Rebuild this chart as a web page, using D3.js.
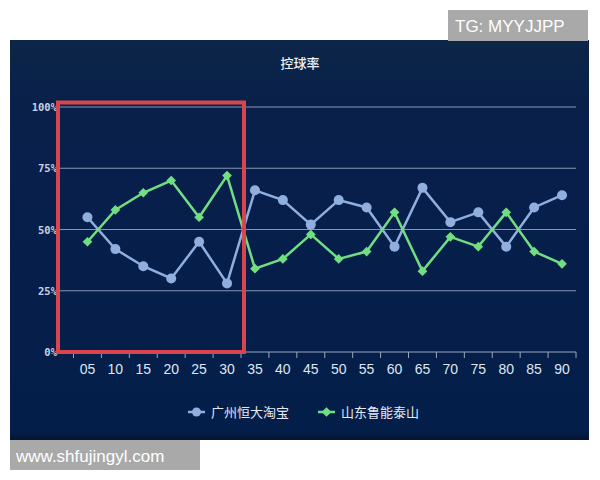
<!DOCTYPE html>
<html>
<head>
<meta charset="utf-8">
<script src="https://cdn.jsdelivr.net/npm/d3@7"></script>
<style>
  body { margin: 0; background: #fff; }
  svg { display: block; }
</style>
</head>
<body>
<svg width="600" height="480"></svg>
<script>
// minutes into the match
let minutes = ["05", "10", "15", "20", "25", "30", "35", "40", "45", "50", "55", "60", "65", "70", "75", "80", "85", "90"];
let guangzhou = [55, 42, 35, 30, 45, 28, 66, 62, 52, 62, 59, 43, 67, 53, 57, 43, 59, 64];
let shandong = [45, 58, 65, 70, 55, 72, 34, 38, 48, 38, 41, 57, 33, 47, 43, 57, 41, 36];
let yTicks = [0, 25, 50, 75, 100];
let seriesNames = ["广州恒大淘宝", "山东鲁能泰山"];
let highlight = ["05", "30"];   // minutes boxed in red

let blue = "#90aede", green = "#72de82";
let cjk = "'Noto Sans CJK SC', sans-serif";

let svg = d3.select("svg");

// dark panel
let grad = svg.append("defs").append("linearGradient")
    .attr("id", "bg").attr("x1", 0).attr("y1", 0).attr("x2", 0).attr("y2", 1);
grad.append("stop").attr("offset", "0%").attr("stop-color", "#0c2548");
grad.append("stop").attr("offset", "20%").attr("stop-color", "#08204a");
grad.append("stop").attr("offset", "98%").attr("stop-color", "#041e4a");
grad.append("stop").attr("offset", "100%").attr("stop-color", "#03142e");

svg.append("rect")
    .attr("x", 10).attr("y", 40).attr("width", 579).attr("height", 400)
    .attr("fill", "url(#bg)");

svg.append("text")
    .attr("x", 300).attr("y", 68)
    .attr("text-anchor", "middle")
    .attr("fill", "#eef2f8")
    .style("font", "500 13px " + cjk)
    .text("控球率");

let left = 59, right = 576;
let x = d3.scaleBand().domain(minutes).range([73.5, right]);
let y = d3.scaleLinear().domain([0, 100]).range([352, 107]);

// grid lines + y labels
svg.append("g").selectAll("line")
    .data(yTicks.filter(d => d > 0))
    .enter().append("line")
    .attr("x1", left).attr("x2", right)
    .attr("y1", d => y(d)).attr("y2", d => y(d))
    .attr("stroke", "#8797b3").attr("stroke-width", 1);

svg.append("g").selectAll("text")
    .data(yTicks)
    .enter().append("text")
    .attr("x", left - 2).attr("y", d => y(d) + 4)
    .attr("text-anchor", "end")
    .attr("fill", "#c9d1e0")
    .style("font", "bold 10.5px 'DejaVu Sans Mono', monospace")
    .text(d => d + "%");

// x axis
let xAxis = svg.append("g");
xAxis.append("line")
    .attr("x1", left).attr("x2", right)
    .attr("y1", y(0)).attr("y2", y(0))
    .attr("stroke", "#9aa7c0");
xAxis.selectAll(".tick")
    .data(minutes)
    .enter().append("line")
    .attr("x1", d => x(d)).attr("x2", d => x(d))
    .attr("y1", y(0)).attr("y2", y(0) + 6)
    .attr("stroke", "#9aa7c0");
xAxis.append("line")
    .attr("x1", right).attr("x2", right)
    .attr("y1", y(0)).attr("y2", y(0) + 6)
    .attr("stroke", "#9aa7c0");
xAxis.selectAll("text")
    .data(minutes)
    .enter().append("text")
    .attr("x", d => x(d) + x.bandwidth() / 2)
    .attr("y", y(0) + 22)
    .attr("text-anchor", "middle")
    .attr("fill", "#dfe6f2")
    .style("font", "14px 'Liberation Sans', Arial, sans-serif")
    .text(d => d);

// lines
let cx = d => x(d) + x.bandwidth() / 2;
let line = d3.line()
    .x((d, i) => cx(minutes[i]))
    .y(d => y(d));

svg.append("path")
    .attr("d", line(guangzhou))
    .attr("fill", "none").attr("stroke", blue).attr("stroke-width", 2.5);
svg.append("path")
    .attr("d", line(shandong))
    .attr("fill", "none").attr("stroke", green).attr("stroke-width", 2.5);

svg.append("g").selectAll("circle")
    .data(guangzhou)
    .enter().append("circle")
    .attr("cx", (d, i) => cx(minutes[i]))
    .attr("cy", d => y(d))
    .attr("r", 5)
    .attr("fill", blue);

let diamond = d3.symbol().type(d3.symbolDiamond2).size(60);
svg.append("g").selectAll("path")
    .data(shandong)
    .enter().append("path")
    .attr("d", diamond)
    .attr("transform", (d, i) => `translate(${cx(minutes[i])},${y(d)})`)
    .attr("fill", green);

// red highlight box
svg.append("rect")
    .attr("x", left - 1)
    .attr("y", y(100) - 4.5)
    .attr("width", x(highlight[1]) + x.bandwidth() + 3 - (left - 1))
    .attr("height", y(0) - y(100) + 4.5)
    .attr("fill", "none")
    .attr("stroke", "#d7464f")
    .attr("stroke-width", 4);

// legend
let legend = svg.append("g").attr("transform", "translate(0,412)");
let items = [
    { name: seriesNames[0], color: blue, x: 188, shape: "circle" },
    { name: seriesNames[1], color: green, x: 318, shape: "diamond" }
];
items.forEach(it => {
    let g = legend.append("g").attr("transform", `translate(${it.x},0)`);
    g.append("line").attr("x1", 0).attr("x2", 17).attr("y1", 0).attr("y2", 0)
        .attr("stroke", it.color).attr("stroke-width", 2.5);
    if (it.shape === "circle") {
        g.append("circle").attr("cx", 8.5).attr("cy", 0).attr("r", 4.5).attr("fill", it.color);
    } else {
        g.append("path").attr("d", diamond).attr("transform", "translate(8.5,0)").attr("fill", it.color);
    }
    g.append("text")
        .attr("x", 23).attr("y", 4.5)
        .attr("fill", "#e4e9f2")
        .style("font", "13px " + cjk)
        .text(it.name);
});

// watermarks
svg.append("rect").attr("x", 448).attr("y", 10).attr("width", 140).attr("height", 31).attr("fill", "#a9a9a9");
svg.append("text").attr("x", 455).attr("y", 32)
    .attr("fill", "#fff")
    .style("font", "17px 'Liberation Sans', Arial, sans-serif")
    .text("TG: MYYJJPP");
svg.append("rect").attr("x", 10).attr("y", 440).attr("width", 190).attr("height", 30).attr("fill", "#a9a9a9");
svg.append("text").attr("x", 16).attr("y", 462)
    .attr("fill", "#fff")
    .style("font", "17px 'Liberation Sans', Arial, sans-serif")
    .text("www.shfujingyl.com");
</script>
</body>
</html>
